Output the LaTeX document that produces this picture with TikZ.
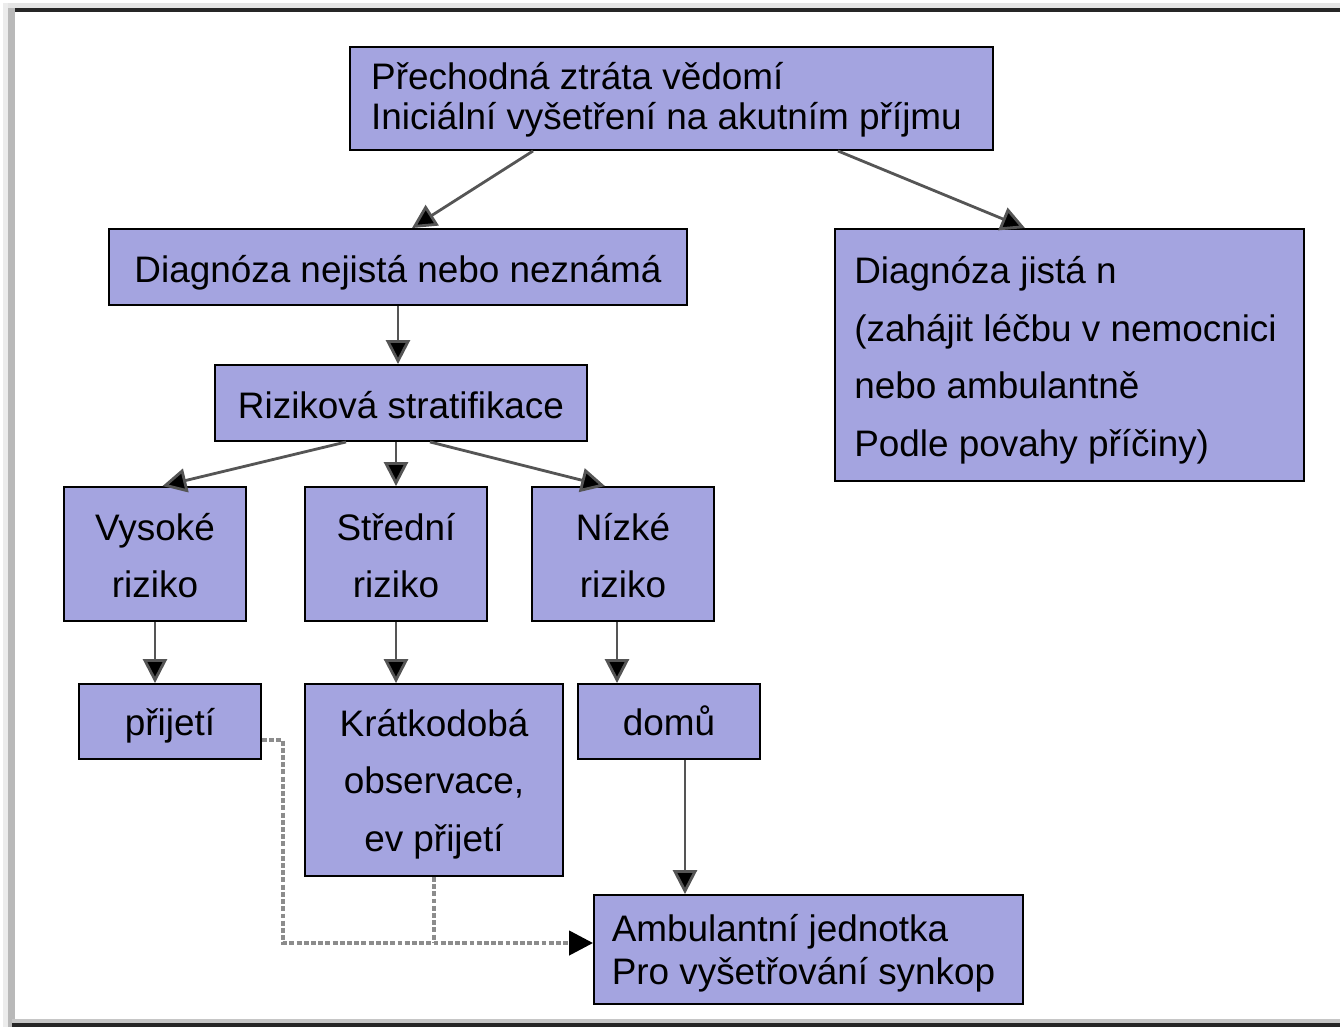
\documentclass[tikz,border=0pt]{standalone}
\usepackage{fontspec}
\setmainfont{Liberation Sans}
\usetikzlibrary{arrows.meta}
\definecolor{boxlilac}{RGB}{164,164,224}
\definecolor{linegray}{RGB}{85,85,85}
\definecolor{dotgray}{RGB}{140,140,140}
% box text: lowered by #1, column spec #2, lines #3
\newcommand{\boxtext}[3]{\raisebox{-#1}[\height][\depth]{%
  \begin{tabular}{@{}#2}#3\end{tabular}}}

\begin{document}
\begin{tikzpicture}[x=0.02cm,y=-0.02cm,
      box/.style={draw=black,fill=boxlilac,line width=1.1pt,inner sep=0pt,
                  font=\fontsize{21}{32.9}\selectfont},
      arr/.style={-{Triangle[length=4.8mm,width=4.8mm,fill=black]},
                  line width=1.6pt,linegray},
      dotline/.style={-{Triangle[length=4.8mm,width=4.8mm,fill=black,color=black]},
                  line width=2.4pt,dotgray,dash pattern=on 2.8pt off 1.3pt}]
    \useasboundingbox (0,0) rectangle (1340,1029);

    % ---- outer frame ---------------------------------------------------
    \fill[gray!20] (3,3) rectangle (1340,8);
    \fill[black!85] (12,8) rectangle (1340,12);
    \fill[gray!55] (8,8) rectangle (15,1027);
    \fill[gray!15] (3,3) rectangle (8,1027);
    \fill[gray!45] (12,1019) rectangle (1340,1023);
    \fill[black!85] (12,1023) rectangle (1340,1027);

    % ---- top: initial examination --------------------------------------
    \node[box,minimum width=12.86cm,minimum height=2.06cm,
          font=\fontsize{21}{23.2}\selectfont] (init) at (671.5,98.5)
          {\boxtext{0.056cm}{l@{\hspace{0.2cm}}}{Přechodná ztráta vědomí\\Iniciální vyšetření na akutním příjmu}};

    % ---- diagnosis uncertain / certain ----------------------------------
    \node[box,minimum width=11.56cm,minimum height=1.52cm] (unsure) at (398,267)
          {\boxtext{0.088cm}{c@{}}{Diagnóza nejistá nebo neznámá}};
    \node[box,minimum width=9.38cm,minimum height=5.04cm] (sure) at (1069.5,355)
          {\boxtext{0.068cm}{l@{\hspace{0.16cm}}}{Diagnóza jistá n\\(zahájit léčbu v nemocnici\\nebo ambulantně\\Podle povahy příčiny)}};
    \draw[arr] ([xshift=-2.77cm]init.south) -- ([xshift=0.28cm]unsure.north);
    \draw[arr] ([xshift=3.33cm]init.south) -- ([xshift=-0.89cm]sure.north);

    % ---- risk stratification ---------------------------------------------
    \node[box,minimum width=7.44cm,minimum height=1.52cm] (strat) at (401,403)
          {\boxtext{0.088cm}{c@{}}{Riziková stratifikace}};
    \draw[arr] (unsure.south) -- (unsure.south |- strat.north);

    \node[box,minimum width=3.64cm,minimum height=2.68cm] (high) at (155,554)
          {\boxtext{0.068cm}{c@{}}{Vysoké\\riziko}};
    \node[box,minimum width=3.64cm,minimum height=2.68cm] (mid) at (396,554)
          {\boxtext{0.068cm}{c@{}}{Střední\\riziko}};
    \node[box,minimum width=3.64cm,minimum height=2.68cm] (low) at (623,554)
          {\boxtext{0.068cm}{c@{}}{Nízké\\riziko}};
    \draw[arr] ([xshift=-1.1cm]strat.south) -- ([xshift=0.15cm]high.north);
    \draw[arr] (mid.north |- strat.south) -- (mid.north);
    \draw[arr] ([xshift=0.58cm]strat.south) -- ([xshift=-0.36cm]low.north);

    % ---- outcomes ---------------------------------------------------------
    \node[box,minimum width=3.64cm,minimum height=1.5cm] (admit) at (170,721.5)
          {\boxtext{0.058cm}{c@{}}{přijetí}};
    \node[box,minimum width=5.16cm,minimum height=3.84cm] (obs) at (434,780)
          {\boxtext{0.048cm}{c@{}}{Krátkodobá\\observace,\\ev přijetí}};
    \node[box,minimum width=3.64cm,minimum height=1.5cm] (home) at (669,721.5)
          {\boxtext{0.058cm}{c@{}}{domů}};
    \draw[arr] (high.south) -- (high.south |- admit.north);
    \draw[arr] (mid.south) -- (mid.south |- obs.north);
    \coordinate (lowout) at ([xshift=-0.12cm]low.south);
    \draw[arr] (lowout) -- (lowout |- home.north);

    % ---- syncope unit -----------------------------------------------------
    \node[box,minimum width=8.58cm,minimum height=2.18cm,
          font=\fontsize{21}{24.9}\selectfont] (unit) at (808.5,949.5)
          {\boxtext{0.094cm}{l@{\hspace{0.2cm}}}{Ambulantní jednotka\\Pro vyšetřování synkop}};
    \coordinate (homeout) at ([xshift=0.32cm]home.south);
    \draw[arr] (homeout) -- (homeout |- unit.north);
    \coordinate (unitin) at ([yshift=0.13cm]unit.west);
    \draw[dotline] ([yshift=-0.37cm]admit.east) -- ++(21,0) |- (unitin);
    \draw[dotline,-] (obs.south) -- (obs.south |- unitin);
  \end{tikzpicture}
\end{document}
